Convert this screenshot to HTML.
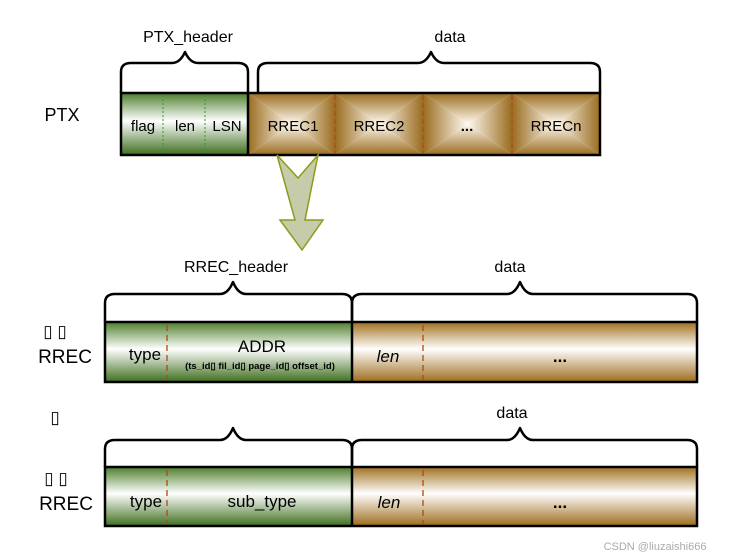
<!DOCTYPE html>
<html><head><meta charset="utf-8"><style>
html,body{margin:0;padding:0;background:#fff;}
svg{display:block;font-family:"Liberation Sans",Arial,sans-serif;}
</style></head><body>
<svg width="729" height="558" viewBox="0 0 729 558" xmlns="http://www.w3.org/2000/svg">
<defs>
<linearGradient id="g" x1="0" y1="0" x2="0" y2="1">
<stop offset="0" stop-color="#4e7e2c"/><stop offset="0.45" stop-color="#ffffff"/><stop offset="1" stop-color="#3f6f1e"/>
</linearGradient>
<linearGradient id="b" x1="0" y1="0" x2="0" y2="1">
<stop offset="0" stop-color="#a0701e"/><stop offset="0.45" stop-color="#ffffff"/><stop offset="1" stop-color="#9c6c1c"/>
</linearGradient>
<linearGradient id="pt" gradientUnits="userSpaceOnUse" x1="0" y1="0" x2="0" y2="50"><stop offset="0" stop-color="#9a6c20"/><stop offset="1" stop-color="#fffaf0"/></linearGradient>
<linearGradient id="pb" gradientUnits="userSpaceOnUse" x1="0" y1="100" x2="0" y2="50"><stop offset="0" stop-color="#9a6c20"/><stop offset="1" stop-color="#fffaf0"/></linearGradient>
<linearGradient id="pl" gradientUnits="userSpaceOnUse" x1="0" y1="0" x2="50" y2="0"><stop offset="0" stop-color="#9a6c20"/><stop offset="1" stop-color="#fffaf0"/></linearGradient>
<linearGradient id="pr" gradientUnits="userSpaceOnUse" x1="100" y1="0" x2="50" y2="0"><stop offset="0" stop-color="#9a6c20"/><stop offset="1" stop-color="#fffaf0"/></linearGradient>
<symbol id="pyr" viewBox="0 0 100 100" preserveAspectRatio="none">
<polygon points="0,0 100,0 50,50" fill="url(#pt)"/>
<polygon points="0,100 100,100 50,50" fill="url(#pb)"/>
<polygon points="0,0 0,100 50,50" fill="url(#pl)"/>
<polygon points="100,0 100,100 50,50" fill="url(#pr)"/>
</symbol>
</defs>
<g fill="none" stroke="#000" stroke-width="2.5" stroke-linejoin="round">
<path d="M121,93 V72 Q121,63 131,63 H172 Q180,63 185,52 Q190,63 198,63 H238 Q248,63 248,72 V93"/>
<path d="M258,93 V72 Q258,63 268,63 H418 Q426,63 431,52 Q436,63 444,63 H590 Q600,63 600,72 V93"/>
<path d="M105,322 V303 Q105,294 115,294 H220 Q228,294 233,282 Q238,294 246,294 H342 Q352,294 352,303 V322"/>
<path d="M352,322 V303 Q352,294 362,294 H507 Q515,294 520,282 Q525,294 533,294 H687 Q697,294 697,303 V322"/>
<path d="M105,467 V449 Q105,440 115,440 H220 Q228,440 233,428 Q238,440 246,440 H342 Q352,440 352,449 V467"/>
<path d="M352,467 V449 Q352,440 362,440 H507 Q515,440 520,428 Q525,440 533,440 H687 Q697,440 697,449 V467"/>
</g>
<!-- PTX bar -->
<rect x="121" y="93" width="127" height="62" fill="url(#g)"/>
<use href="#pyr" x="248" y="93" width="87" height="62"/>
<use href="#pyr" x="335" y="93" width="88" height="62"/>
<use href="#pyr" x="423" y="93" width="89" height="62"/>
<use href="#pyr" x="512" y="93" width="88" height="62"/>
<g stroke="#2e9a2e" stroke-width="1" stroke-dasharray="2,2"><line x1="163" y1="95" x2="163" y2="153"/><line x1="205" y1="95" x2="205" y2="153"/></g>
<g stroke="#b04a10" stroke-width="1.2" stroke-dasharray="5,3"><line x1="335" y1="95" x2="335" y2="153"/><line x1="423" y1="95" x2="423" y2="153"/><line x1="512" y1="95" x2="512" y2="153"/></g>
<rect x="121" y="93" width="479" height="62" fill="none" stroke="#000" stroke-width="2.5"/>
<line x1="248" y1="93" x2="248" y2="155" stroke="#000" stroke-width="2.5"/>
<!-- arrow -->
<polygon points="277,155 298,178 318,155 305,220 323,220 302,250 280,220 295,220" fill="#c6ccaa" stroke="#8f9a1a" stroke-width="1.5" stroke-linejoin="miter"/>
<!-- RREC bar 1 -->
<rect x="105" y="322" width="247" height="60" fill="url(#g)"/>
<rect x="352" y="322" width="345" height="60" fill="url(#b)"/>
<g stroke="#b04a10" stroke-width="1.3" stroke-dasharray="6,4"><line x1="167" y1="325" x2="167" y2="380"/><line x1="423" y1="325" x2="423" y2="380"/></g>
<rect x="105" y="322" width="592" height="60" fill="none" stroke="#000" stroke-width="2.5"/>
<line x1="352" y1="322" x2="352" y2="382" stroke="#000" stroke-width="2.5"/>
<!-- RREC bar 2 -->
<rect x="105" y="467" width="247" height="59" fill="url(#g)"/>
<rect x="352" y="467" width="345" height="59" fill="url(#b)"/>
<g stroke="#b04a10" stroke-width="1.3" stroke-dasharray="6,4"><line x1="167" y1="470" x2="167" y2="524"/><line x1="423" y1="470" x2="423" y2="524"/></g>
<rect x="105" y="467" width="592" height="59" fill="none" stroke="#000" stroke-width="2.5"/>
<line x1="352" y1="467" x2="352" y2="526" stroke="#000" stroke-width="2.5"/>
<!-- text -->
<g fill="#000" font-size="16" text-anchor="middle">
<text x="188" y="42">PTX_header</text>
<text x="450" y="42">data</text>
<text x="62" y="121" font-size="18">PTX</text>
<text x="143" y="131" font-size="15">flag</text>
<text x="185" y="131" font-size="15">len</text>
<text x="227" y="131" font-size="15">LSN</text>
<text x="293" y="131" font-size="15">RREC1</text>
<text x="379" y="131" font-size="15">RREC2</text>
<text x="467" y="131" font-size="15" font-weight="bold">...</text>
<text x="556" y="131" font-size="15">RRECn</text>
<text x="236" y="272">RREC_header</text>
<text x="510" y="272">data</text>
<text x="512" y="418">data</text>
<text x="55" y="337" font-size="17">▯ ▯</text>
<text x="65" y="363" font-size="19">RREC</text>
<text x="55" y="423" font-size="17">▯</text>
<text x="56" y="484" font-size="17">▯ ▯</text>
<text x="66" y="510" font-size="19">RREC</text>
<text x="145" y="360" font-size="17">type</text>
<text x="262" y="352" font-size="17">ADDR</text>
<text x="260" y="369" font-size="9.5" font-weight="bold">(ts_id▯  fil_id▯   page_id▯  offset_id)</text>
<text x="388" y="362" font-style="italic" font-size="17">len</text>
<text x="560" y="362" font-weight="bold" font-size="17">...</text>
<text x="146" y="507" font-size="17">type</text>
<text x="262" y="507" font-size="17">sub_type</text>
<text x="389" y="508" font-style="italic" font-size="17">len</text>
<text x="560" y="508" font-weight="bold" font-size="17">...</text>
<text x="655" y="550" font-size="11" fill="#aaa">CSDN @liuzaishi666</text>
</g>
</svg>
</body></html>
